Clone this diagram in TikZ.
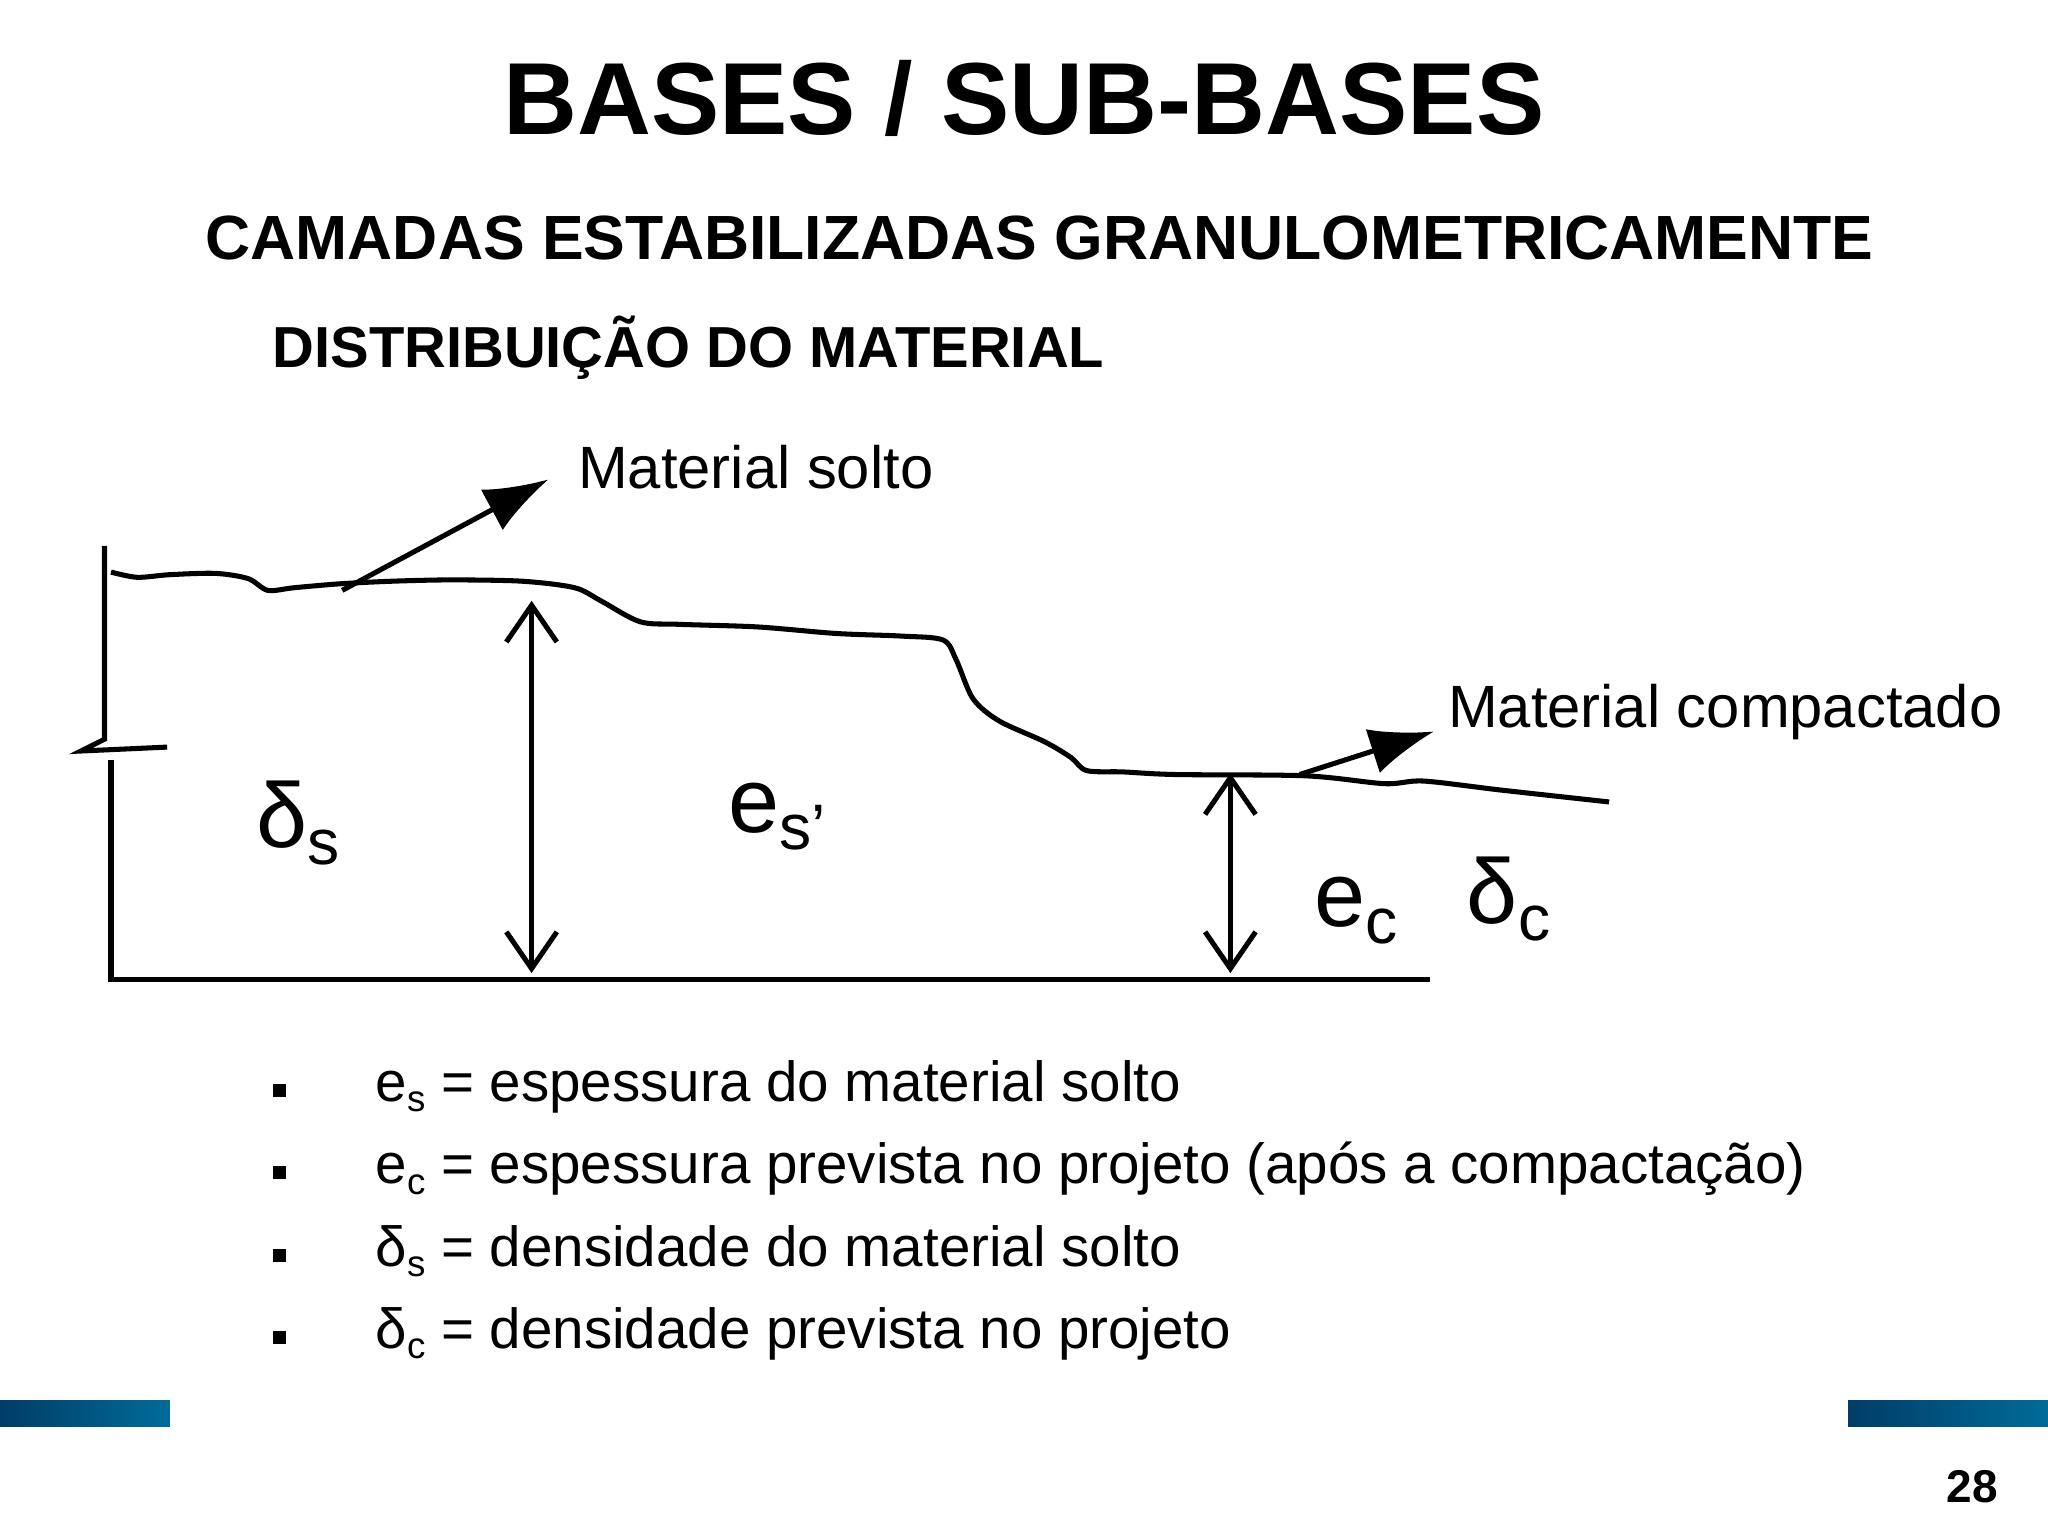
\documentclass[tikz,border=0pt]{standalone}
\usepackage{fontspec}
\setmainfont{Liberation Sans}
\usetikzlibrary{arrows.meta}
\begin{document}
\begin{tikzpicture}[x=0.01cm,y=-0.01cm,
  lbl/.style={font=\fontsize{13pt}{15pt}\selectfont,anchor=west,inner sep=0},
  big/.style={font=\fontsize{20pt}{22pt}\selectfont,inner sep=0},
  bul/.style={font=\fontsize{12.3pt}{15pt}\selectfont,anchor=west,inner sep=0},
  ln/.style={line width=1.1pt},
  bar/.style={left color=blue!40!cyan!40!black,right color=blue!30!cyan!60!black,draw=none}]
\useasboundingbox (0,0) rectangle (1568,1176);
\node (t) at (784,75) {\fontsize{22.3pt}{26pt}\selectfont\bfseries BASES / SUB-BASES};
\node (s) at (796,182) {\fontsize{13.6pt}{16pt}\selectfont\bfseries CAMADAS ESTABILIZADAS GRANULOMETRICAMENTE};
\node[anchor=west,inner sep=0] (d) at (208,266) {\fontsize{12.6pt}{15pt}\selectfont\bfseries DISTRIBUIÇÃO DO MATERIAL};
% ground
\draw[ln] (80,418)--(80,566)--(62,575)--(128,572);
\draw[ln] (85,582)--(85,750)--(1095,750);
\draw[line width=1.1pt] plot[smooth,tension=0.5] coordinates {(85,438)(105,442)(130,440)(165,439)(190,443)(205,452)(225,450)(260,447)(300,445)(345,444)(400,445)(440,450)(460,460)(490,476)(520,478)(580,480)(640,485)(690,487)(722,490)(732,505)(745,535)(765,552)(800,568)(820,580)(832,590)(860,591)(900,593)(1000,594)(1060,600)(1090,598)(1150,605)(1232,614)};
\coordinate (a1) at (262,452); \node[lbl] (ms) at (442,358) {Material solto};
\draw[ln,-{Latex[length=14pt,width=10pt]}] (a1)--(420,367);
\coordinate (a2) at (995,593); \node[lbl] (mc) at (1108,545) {Material compactado};
\draw[ln,-{Latex[length=14pt,width=10pt]}] (a2)--(1098,560);
\coordinate (u1) at (407,460); \coordinate (d1) at (407,745);
\draw[ln,{Straight Barb[length=8pt,width=11pt]}-{Straight Barb[length=8pt,width=11pt]}] (u1)--(d1);
\coordinate (u2) at (942,592); \coordinate (d2) at (942,745);
\draw[ln,{Straight Barb[length=8pt,width=11pt]}-{Straight Barb[length=8pt,width=11pt]}] (u2)--(d2);
\node[big] (ds) at (228,630) {δ\raisebox{-0.35ex}{\fontsize{14pt}{16pt}\selectfont s}};
\node[big] (es) at (595,625) {e\raisebox{-0.35ex}{\fontsize{14pt}{16pt}\selectfont s’}};
\node[big] (ec) at (1038,697) {e\raisebox{-0.35ex}{\fontsize{14pt}{16pt}\selectfont c}};
\node[big] (dc) at (1155,688) {δ\raisebox{-0.35ex}{\fontsize{14pt}{16pt}\selectfont c}};
% bullets
\foreach \y/\t in {832/{e\raisebox{-0.35ex}{\footnotesize s} = espessura do material solto},
 895/{e\raisebox{-0.35ex}{\footnotesize c} = espessura prevista no projeto (após a compactação)},
 958/{δ\raisebox{-0.35ex}{\footnotesize s} = densidade do material solto},
 1021/{δ\raisebox{-0.35ex}{\footnotesize c} = densidade prevista no projeto}}{
 \fill (209,\y-2) rectangle (219,\y+8);
 \node[bul] at (287,\y) {\t};}
\fill[bar] (0,1072) rectangle (130,1092);
\fill[bar] (1415,1072) rectangle (1568,1092);
\node (pg) at (1510,1138) {\fontsize{10pt}{12pt}\selectfont\bfseries 28};
\end{tikzpicture}
\end{document}
